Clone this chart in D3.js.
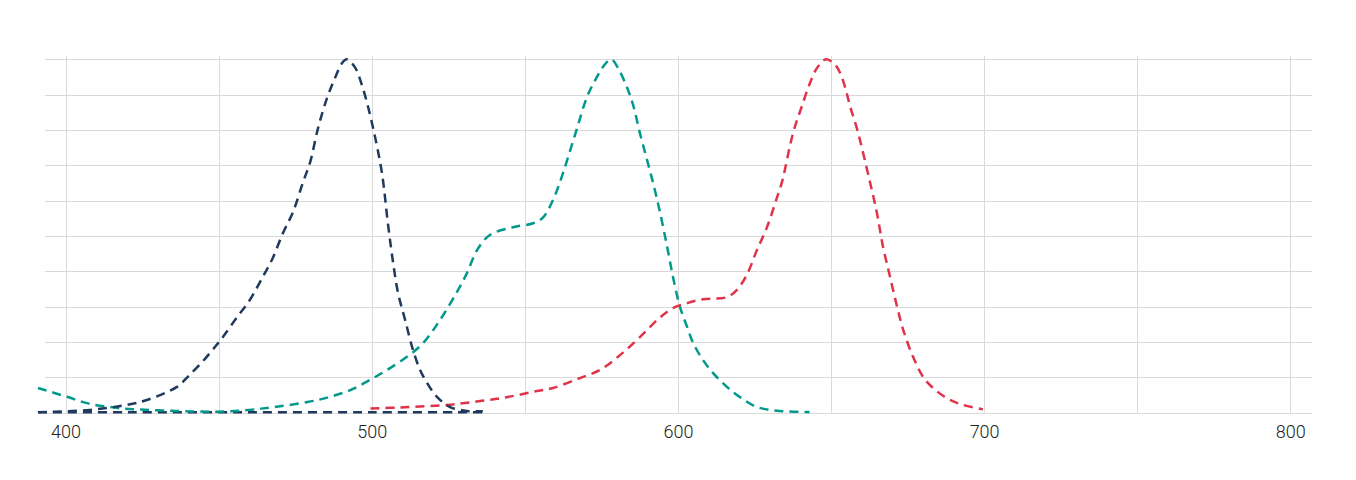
<!DOCTYPE html>
<html>
<head>
<meta charset="utf-8">
<script src="https://cdn.jsdelivr.net/npm/d3@7"></script>
<style>
  html, body { margin: 0; padding: 0; background: #fff; }
  svg { display: block; }
</style>
</head>
<body>
<svg id="chart" width="1356" height="480"></svg>
<script>
// ---- data ----
const xTickLabels = [400, 500, 600, 700, 800];
const xGridValues = [400, 450, 500, 550, 600, 650, 700, 750, 800];
const yGridValues = [0, 0.1, 0.2, 0.3, 0.4, 0.5, 0.6, 0.7, 0.8, 0.9, 1.0];

const navyWavelength = [391, 408, 420, 426.6, 436.4, 440.3, 444.6, 448.8, 451.4, 456, 460.2, 464.4, 467.7, 471, 474.3, 477.6, 479.9, 482.5, 485.4, 488, 490.3, 491.9, 494.5, 496.8, 498.8, 501.1, 503.4, 505.3, 507, 508.6, 510.9, 513.5, 515.8, 518.1, 521.4, 525.6, 531.1, 536.3];
const navyValue = [0.001, 0.008, 0.022, 0.036, 0.073, 0.105, 0.143, 0.186, 0.214, 0.27, 0.319, 0.384, 0.438, 0.508, 0.568, 0.653, 0.709, 0.806, 0.89, 0.947, 0.989, 1.0, 0.978, 0.927, 0.866, 0.78, 0.675, 0.535, 0.424, 0.339, 0.263, 0.177, 0.121, 0.084, 0.044, 0.016, 0.005, 0.004];

const navyFlatWavelength = [391, 420, 460, 500, 537];
const navyFlatValue = [0.001, 0.001, 0.001, 0.001, 0.001];

const tealWavelength = [391, 400.5, 407, 414.5, 422, 449, 460, 468, 479, 486, 493, 499.5, 505, 511.5, 516.8, 522.3, 527.8, 531.1, 534.4, 538.6, 546.2, 552.7, 556, 559.2, 561.5, 566.4, 570.3, 573, 575.5, 578.2, 581.1, 583.7, 585.4, 587.6, 591.9, 594.2, 596.5, 598.4, 600.7, 603, 605, 608.2, 611.5, 616, 620.3, 625.8, 633.3, 643];
const tealValue = [0.07, 0.045, 0.027, 0.016, 0.01, 0.003, 0.008, 0.016, 0.03, 0.044, 0.064, 0.093, 0.121, 0.158, 0.197, 0.262, 0.341, 0.395, 0.46, 0.503, 0.525, 0.536, 0.553, 0.602, 0.653, 0.786, 0.893, 0.941, 0.978, 1.0, 0.964, 0.913, 0.87, 0.791, 0.65, 0.565, 0.469, 0.384, 0.299, 0.243, 0.197, 0.149, 0.112, 0.073, 0.044, 0.016, 0.005, 0.002];

const redWavelength = [499.6, 509.3, 524.6, 535.4, 544.2, 552.7, 559.2, 568, 574.6, 581.1, 587.6, 594.2, 598.4, 603, 608.2, 616, 619.2, 622.5, 625.8, 629.1, 632.4, 634, 637.6, 640.4, 643.1, 645.4, 648.4, 651.4, 653, 654.7, 656.3, 658.6, 662.8, 665, 667, 669.3, 671.6, 673.6, 676.8, 680.1, 683.3, 687.9, 693.1, 699.6];
const redValue = [0.012, 0.015, 0.022, 0.033, 0.044, 0.059, 0.07, 0.098, 0.121, 0.163, 0.214, 0.27, 0.296, 0.31, 0.321, 0.327, 0.347, 0.39, 0.46, 0.525, 0.61, 0.653, 0.791, 0.865, 0.932, 0.975, 1.0, 0.984, 0.961, 0.918, 0.865, 0.8, 0.65, 0.565, 0.469, 0.384, 0.299, 0.234, 0.158, 0.101, 0.07, 0.041, 0.022, 0.01];

const seriesList = [
  { wl: navyFlatWavelength, val: navyFlatValue, color: "#1f3a5c" },
  { wl: tealWavelength, val: tealValue, color: "#00998b" },
  { wl: redWavelength, val: redValue, color: "#e0334a" },
  { wl: navyWavelength, val: navyValue, color: "#1f3a5c" }
];

// ---- layout ----
const svg = d3.select("#chart");
const x = d3.scaleLinear().domain([400, 800]).range([65.5, 1290.3]);
const y = d3.scaleLinear().domain([0, 1]).range([412.7, 59.3]);
const gridLeft = 45, gridRight = 1312, gridTop = 56;

// horizontal grid
svg.append("g").selectAll("line").data(yGridValues).join("line")
  .attr("x1", gridLeft).attr("x2", gridRight)
  .attr("y1", d => Math.round(y(d)) + 0.5).attr("y2", d => Math.round(y(d)) + 0.5)
  .attr("stroke", "#d9d9d9").attr("stroke-width", 1);

// vertical grid
svg.append("g").selectAll("line").data(xGridValues).join("line")
  .attr("x1", d => Math.round(x(d)) + 0.5).attr("x2", d => Math.round(x(d)) + 0.5)
  .attr("y1", gridTop).attr("y2", y(0))
  .attr("stroke", "#d9d9d9").attr("stroke-width", 1);

// x-axis labels
const xAxis = d3.axisBottom(x).tickValues(xTickLabels).tickSize(0).tickPadding(0).tickFormat(d3.format("d"));
const gx = svg.append("g").attr("transform", "translate(0,425)").call(xAxis);
gx.select(".domain").remove();
gx.selectAll("text")
  .attr("dy", "0.71em")
  .style("font-family", "Roboto, sans-serif")
  .style("font-weight", 300)
  .style("font-size", "18px")
  .attr("fill", "#222");

// lines
const line = d3.line()
  .x(d => x(d[0]))
  .y(d => y(d[1]))
  .curve(d3.curveCatmullRom.alpha(0.5));

seriesList.forEach(s => {
  const pts = s.wl.map((w, i) => [w, s.val[i]]);
  svg.append("path")
    .datum(pts)
    .attr("d", line)
    .attr("fill", "none")
    .attr("stroke", s.color)
    .attr("stroke-width", 2.5)
    .attr("stroke-dasharray", "9,6");
});
</script>
</body>
</html>
